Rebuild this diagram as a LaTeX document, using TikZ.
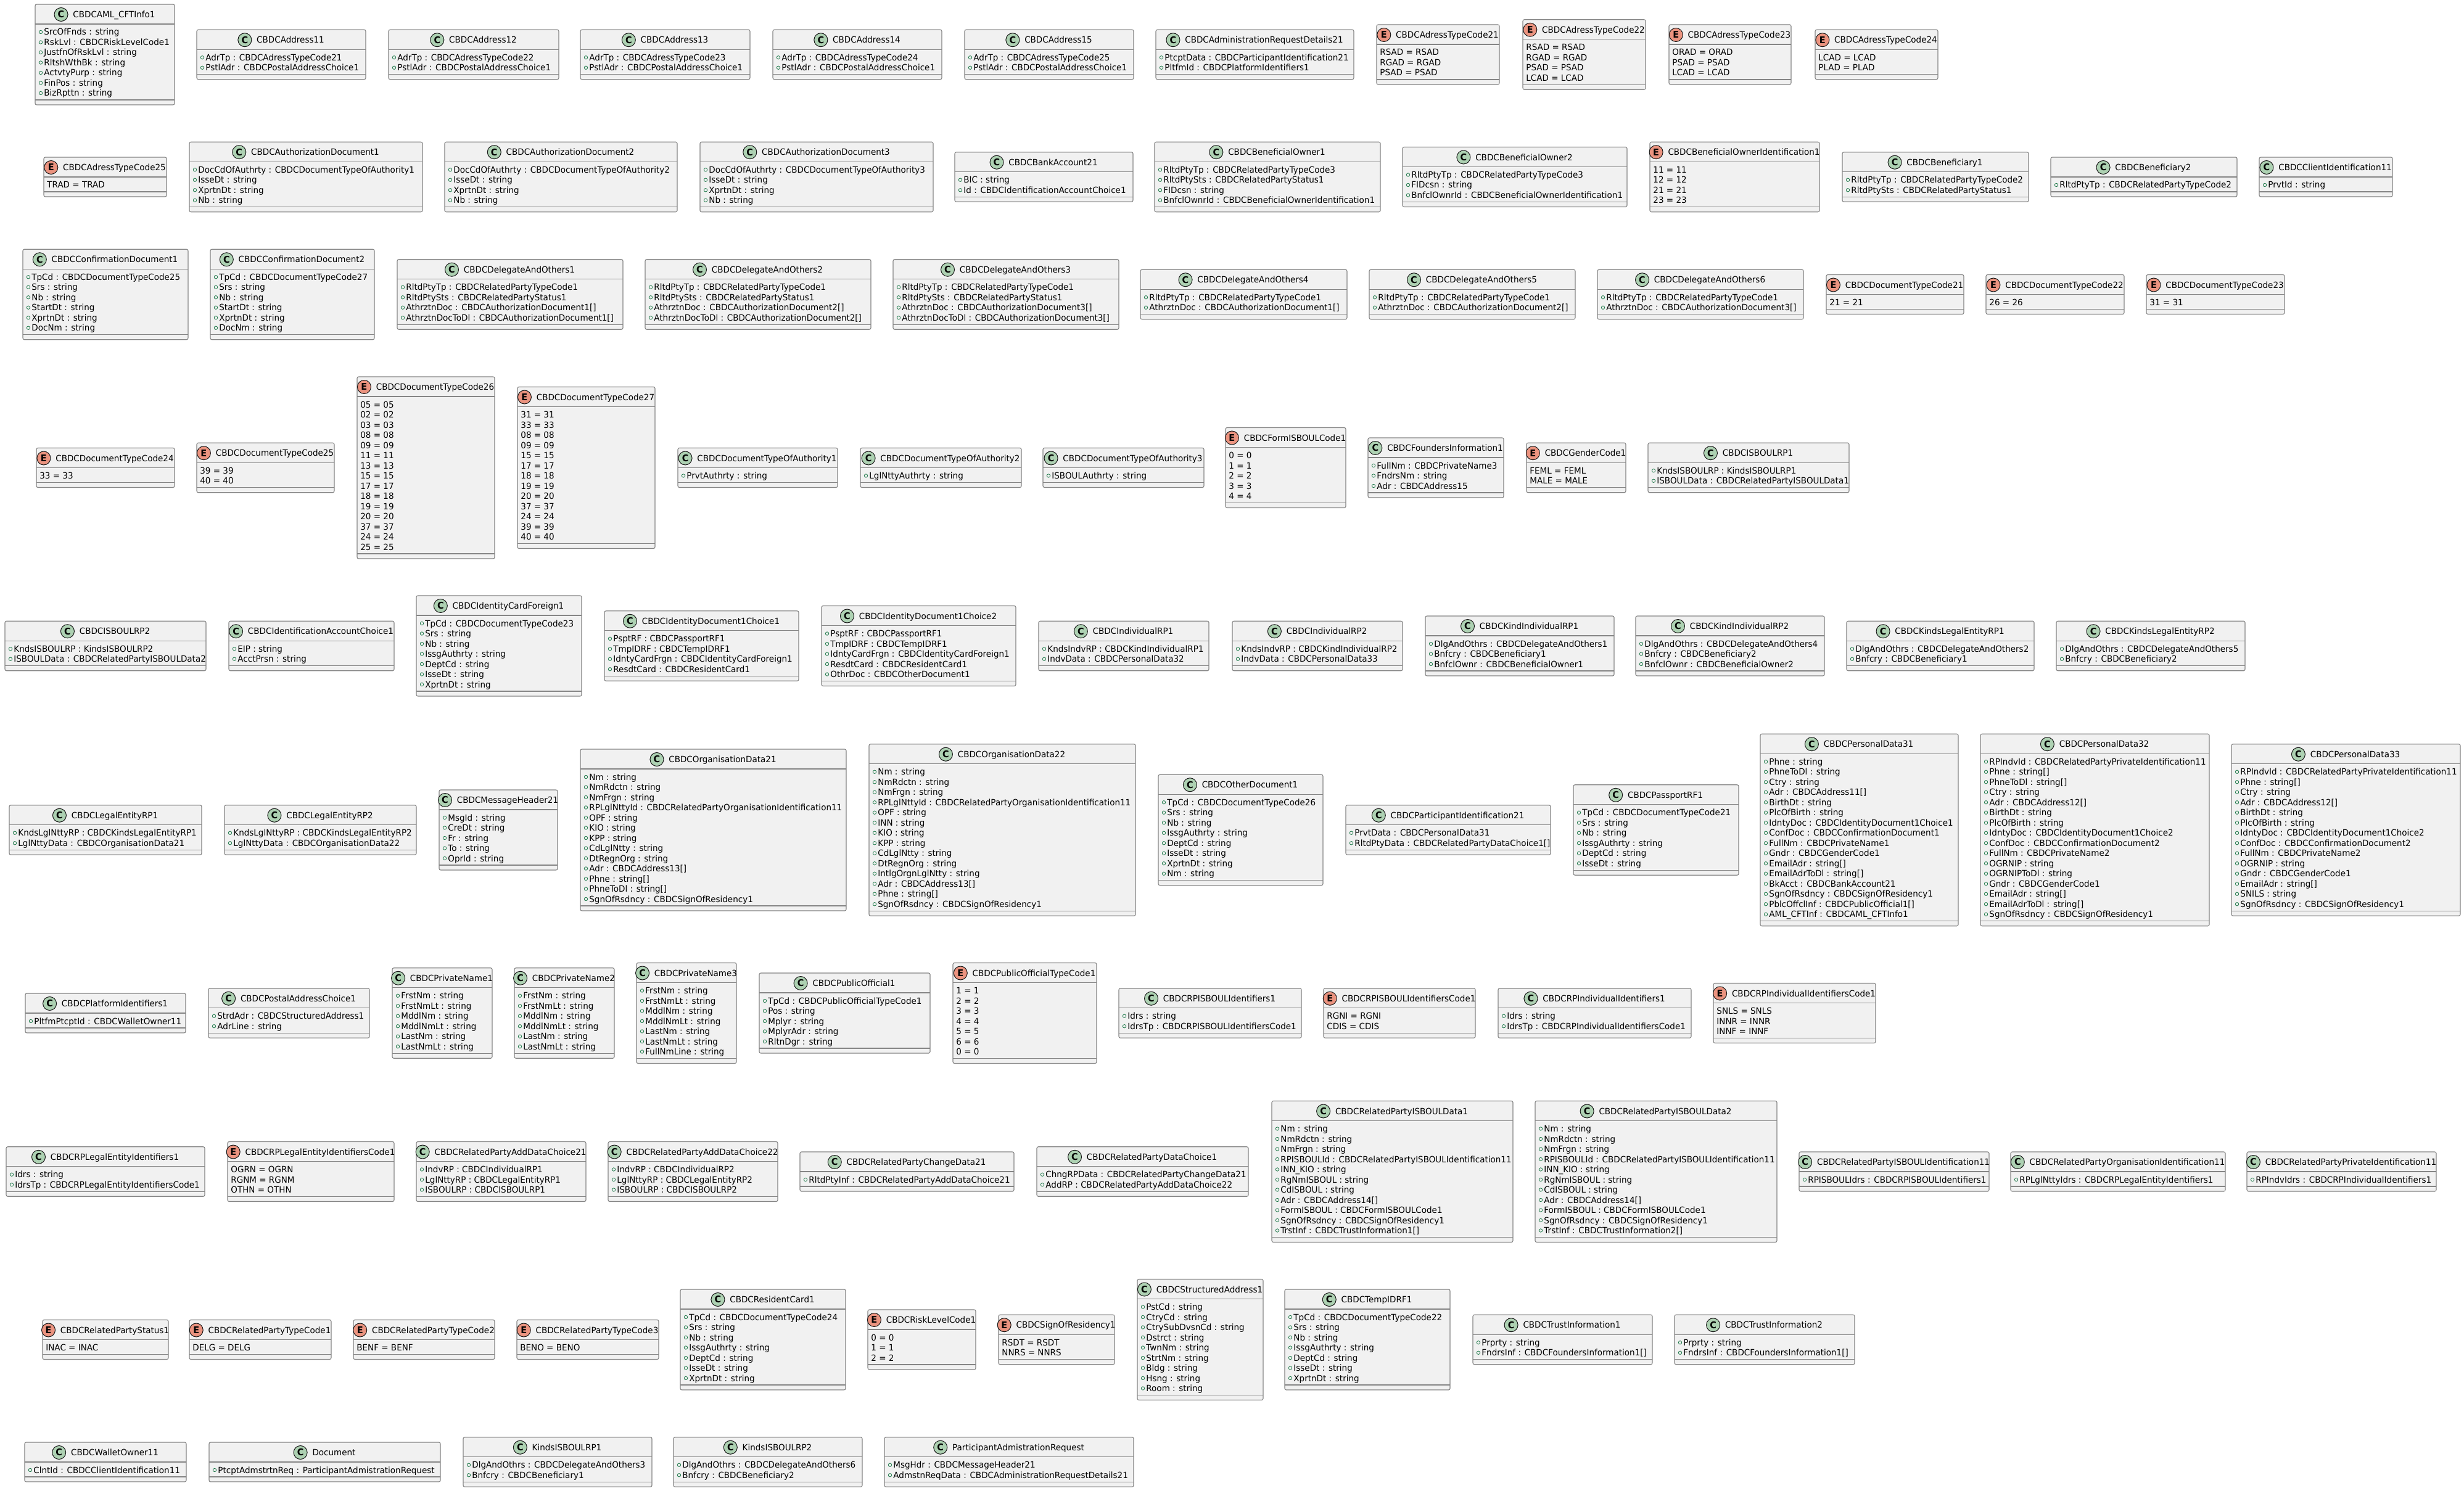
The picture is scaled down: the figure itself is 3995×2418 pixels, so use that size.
\documentclass[tikz,border=0pt]{standalone}
\usepackage{fontspec}
\setmainfont{DejaVu Sans}[FakeStretch=0.965]
\definecolor{boxfill}{HTML}{F1F1F1}
\definecolor{framecol}{HTML}{858585}
\definecolor{classgreen}{HTML}{ADD1B2}
\definecolor{enumred}{HTML}{EB937F}
\definecolor{markgreen}{HTML}{1F7A4A}
\definecolor{iconline}{HTML}{181818}
\newcommand\umlfont{\fontsize{7}{8.25}\selectfont}
\tikzset{
  umlbox/.style={draw=framecol, fill=boxfill, line width=0.55pt, rounded corners=1.25pt, anchor=north west, inner sep=0pt, outer sep=0pt},
  umlsep/.style={draw=framecol, line width=0.55pt},
  umltitle/.style={anchor=base, inner sep=0pt, font=\umlfont, text=black},
  umltext/.style={anchor=base west, inner sep=0pt, font=\umlfont, text=black},
  umlmark/.style={draw=markgreen, line width=0.4pt},
  umliconC/.style={circle, draw=iconline, line width=0.5pt, fill=classgreen, minimum size=11pt, inner sep=0pt, font=\fontsize{7.5}{8}\selectfont\bfseries},
  umliconE/.style={circle, draw=iconline, line width=0.5pt, fill=enumred, minimum size=11pt, inner sep=0pt, font=\fontsize{7.5}{8}\selectfont\bfseries}
}
% #1 kind C/E, #2 id, #3 title, #4 left x, #5 width, #6 row centre y, #7 number of lines, #8 lines
\newcommand\ub[8]{%
  \pgfmathsetmacro\bh{47.5+#7*16.5}%
  \pgfmathsetmacro\bt{#6-\bh/2}%
  \pgfmathsetmacro\bb{#6+\bh/2}%
  \pgfmathsetmacro\br{#4+#5}%
  \pgfmathsetmacro\hy{\bt+32}%
  \pgfmathsetmacro\my{\bb-8}%
  \pgfmathsetmacro\wpt{#5/2}%
  \pgfmathsetmacro\hpt{\bh/2}%
  \node[umlbox, minimum width=\wpt pt, minimum height=\hpt pt] (#2) at (#4,\bt) {};
  \draw[umlsep] (#4,\hy) -- (\br,\hy) (#4,\my) -- (\br,\my);
  \pgfmathsetmacro\tx{#4+#5/2}%
  \pgfmathsetmacro\ty{\bt+21.6}%
  \node[umltitle] (#2-t) at (\tx,\ty) {\hspace*{15pt}#3};
  \node[umlicon#1] (#2-i) at ([shift={(11,-5.1)}]#2-t.base west) {#1};
  \foreach \a [count=\i from 0] in {#8} {%
    \pgfmathsetmacro\ly{\hy+13+16.5*\i}%
    \pgfmathsetmacro\lb{\ly+5}%
    \if#1C
      \pgfmathsetmacro\mx{#4+9}%
      \draw[umlmark] (\mx,\ly) circle[radius=1.35pt];
      \pgfmathsetmacro\ax{#4+14}%
    \else
      \pgfmathsetmacro\ax{#4+5}%
    \fi
    \node[umltext] (#2-a\i) at (\ax,\lb) {\a};
  }%
}
\begin{document}
\begin{tikzpicture}[x=0.5pt,y=-0.5pt]
\fill[white] (0,0) rectangle (3995,2418);
\useasboundingbox (0,0) rectangle (3995,2418);
% Row 1
\ub{C}{aml}{CBDCAML\_CFTInfo1}{57}{226}{88.5}{7}{SrcOfFnds : string, RskLvl : CBDCRiskLevelCode1, JustfnOfRskLvl : string, RltshWthBk : string, ActvtyPurp : string, FinPos : string, BizRpttn : string}
\ub{C}{addr11}{CBDCAddress11}{319}{274}{88.5}{2}{AdrTp : CBDCAdressTypeCode21, PstlAdr : CBDCPostalAddressChoice1}
\ub{C}{addr12}{CBDCAddress12}{630}{276}{88.5}{2}{AdrTp : CBDCAdressTypeCode22, PstlAdr : CBDCPostalAddressChoice1}
\ub{C}{addr13}{CBDCAddress13}{941}{275}{88.5}{2}{AdrTp : CBDCAdressTypeCode23, PstlAdr : CBDCPostalAddressChoice1}
\ub{C}{addr14}{CBDCAddress14}{1253}{274}{88.5}{2}{AdrTp : CBDCAdressTypeCode24, PstlAdr : CBDCPostalAddressChoice1}
\ub{C}{addr15}{CBDCAddress15}{1564}{274}{88.5}{2}{AdrTp : CBDCAdressTypeCode25, PstlAdr : CBDCPostalAddressChoice1}
\ub{C}{admreq}{CBDCAdministrationRequestDetails21}{1874}{321}{88.5}{2}{PtcptData : CBDCParticipantIdentification21, PltfmId : CBDCPlatformIdentifiers1}
\ub{E}{atc21}{CBDCAdressTypeCode21}{2232}{199}{88.5}{3}{RSAD = RSAD, RGAD = RGAD, PSAD = PSAD}
\ub{E}{atc22}{CBDCAdressTypeCode22}{2469}{199}{88.5}{4}{RSAD = RSAD, RGAD = RGAD, PSAD = PSAD, LCAD = LCAD}
\ub{E}{atc23}{CBDCAdressTypeCode23}{2706}{198}{88.5}{3}{ORAD = ORAD, PSAD = PSAD, LCAD = LCAD}
\ub{E}{atc24}{CBDCAdressTypeCode24}{2943}{199}{88.5}{2}{LCAD = LCAD, PLAD = PLAD}
% Row 2
\ub{E}{atc25}{CBDCAdressTypeCode25}{71}{199}{287}{1}{TRAD = TRAD}
\ub{C}{auth1}{CBDCAuthorizationDocument1}{307}{378}{287}{4}{DocCdOfAuthrty : CBDCDocumentTypeOfAuthority1, IsseDt : string, XprtnDt : string, Nb : string}
\ub{C}{auth2}{CBDCAuthorizationDocument2}{721}{377}{287}{4}{DocCdOfAuthrty : CBDCDocumentTypeOfAuthority2, IsseDt : string, XprtnDt : string, Nb : string}
\ub{C}{auth3}{CBDCAuthorizationDocument3}{1135}{378}{287}{4}{DocCdOfAuthrty : CBDCDocumentTypeOfAuthority3, IsseDt : string, XprtnDt : string, Nb : string}
\ub{C}{bank21}{CBDCBankAccount21}{1548}{289}{287}{2}{BIC : string, Id : CBDCIdentificationAccountChoice1}
\ub{C}{benown1}{CBDCBeneficialOwner1}{1872}{366}{287}{4}{RltdPtyTp : CBDCRelatedPartyTypeCode3, RltdPtySts : CBDCRelatedPartyStatus1, FIDcsn : string, BnfclOwnrId : CBDCBeneficialOwnerIdentification1}
\ub{C}{benown2}{CBDCBeneficialOwner2}{2274}{364}{287}{3}{RltdPtyTp : CBDCRelatedPartyTypeCode3, FIDcsn : string, BnfclOwnrId : CBDCBeneficialOwnerIdentification1}
\ub{E}{benownid}{CBDCBeneficialOwnerIdentification1}{2675}{275}{287}{4}{11 = 11, 12 = 12, 21 = 21, 23 = 23}
\ub{C}{benef1}{CBDCBeneficiary1}{2987}{302}{287}{2}{RltdPtyTp : CBDCRelatedPartyTypeCode2, RltdPtySts : CBDCRelatedPartyStatus1}
\ub{C}{benef2}{CBDCBeneficiary2}{3325}{302}{287}{1}{RltdPtyTp : CBDCRelatedPartyTypeCode2}
\ub{C}{clientid}{CBDCClientIdentification11}{3663}{216}{287}{1}{PrvtId : string}
% Row 3
\ub{C}{conf1}{CBDCConfirmationDocument1}{37}{268}{477.5}{6}{TpCd : CBDCDocumentTypeCode25, Srs : string, Nb : string, StartDt : string, XprtnDt : string, DocNm : string}
\ub{C}{conf2}{CBDCConfirmationDocument2}{341}{266}{477.5}{6}{TpCd : CBDCDocumentTypeCode27, Srs : string, Nb : string, StartDt : string, XprtnDt : string, DocNm : string}
\ub{C}{dao1}{CBDCDelegateAndOthers1}{644}{366}{477.5}{4}{RltdPtyTp : CBDCRelatedPartyTypeCode1, RltdPtySts : CBDCRelatedPartyStatus1, AthrztnDoc : CBDCAuthorizationDocument1[], AthrztnDocToDl : CBDCAuthorizationDocument1[]}
\ub{C}{dao2}{CBDCDelegateAndOthers2}{1046}{366}{477.5}{4}{RltdPtyTp : CBDCRelatedPartyTypeCode1, RltdPtySts : CBDCRelatedPartyStatus1, AthrztnDoc : CBDCAuthorizationDocument2[], AthrztnDocToDl : CBDCAuthorizationDocument2[]}
\ub{C}{dao3}{CBDCDelegateAndOthers3}{1448}{366}{477.5}{4}{RltdPtyTp : CBDCRelatedPartyTypeCode1, RltdPtySts : CBDCRelatedPartyStatus1, AthrztnDoc : CBDCAuthorizationDocument3[], AthrztnDocToDl : CBDCAuthorizationDocument3[]}
\ub{C}{dao4}{CBDCDelegateAndOthers4}{1849}{335}{477.5}{2}{RltdPtyTp : CBDCRelatedPartyTypeCode1, AthrztnDoc : CBDCAuthorizationDocument1[]}
\ub{C}{dao5}{CBDCDelegateAndOthers5}{2220}{334}{477.5}{2}{RltdPtyTp : CBDCRelatedPartyTypeCode1, AthrztnDoc : CBDCAuthorizationDocument2[]}
\ub{C}{dao6}{CBDCDelegateAndOthers6}{2590}{334}{477.5}{2}{RltdPtyTp : CBDCRelatedPartyTypeCode1, AthrztnDoc : CBDCAuthorizationDocument3[]}
\ub{E}{dtc21}{CBDCDocumentTypeCode21}{2961}{223}{477.5}{1}{21 = 21}
\ub{E}{dtc22}{CBDCDocumentTypeCode22}{3220}{224}{477.5}{1}{26 = 26}
\ub{E}{dtc23}{CBDCDocumentTypeCode23}{3480}{224}{477.5}{1}{31 = 31}
% Row 4
\ub{E}{dtc24}{CBDCDocumentTypeCode24}{59}{224}{758.5}{1}{33 = 33}
\ub{E}{dtc25}{CBDCDocumentTypeCode25}{319}{223}{758.5}{2}{39 = 39, 40 = 40}
\ub{E}{dtc26}{CBDCDocumentTypeCode26}{579}{223}{758.5}{15}{05 = 05, 02 = 02, 03 = 03, 08 = 08, 09 = 09, 11 = 11, 13 = 13, 15 = 15, 17 = 17, 18 = 18, 19 = 19, 20 = 20, 37 = 37, 24 = 24, 25 = 25}
\ub{E}{dtc27}{CBDCDocumentTypeCode27}{839}{223}{758.5}{13}{31 = 31, 33 = 33, 08 = 08, 09 = 09, 15 = 15, 17 = 17, 18 = 18, 19 = 19, 20 = 20, 37 = 37, 24 = 24, 39 = 39, 40 = 40}
\ub{C}{dtoa1}{CBDCDocumentTypeOfAuthority1}{1099}{259}{758.5}{1}{PrvtAuthrty : string}
\ub{C}{dtoa2}{CBDCDocumentTypeOfAuthority2}{1395}{261}{758.5}{1}{LglNttyAuthrty : string}
\ub{C}{dtoa3}{CBDCDocumentTypeOfAuthority3}{1691}{261}{758.5}{1}{ISBOULAuthrty : string}
\ub{E}{formisb}{CBDCFormISBOULCode1}{1987}{195}{758.5}{5}{0 = 0, 1 = 1, 2 = 2, 3 = 3, 4 = 4}
\ub{C}{founders}{CBDCFoundersInformation1}{2218}{220}{758.5}{3}{FullNm : CBDCPrivateName3, FndrsNm : string, Adr : CBDCAddress15}
\ub{E}{gender}{CBDCGenderCode1}{2475}{161}{758.5}{2}{FEML = FEML, MALE = MALE}
\ub{C}{isbrp1}{CBDCISBOULRP1}{2672}{326}{758.5}{2}{KndsISBOULRP : KindsISBOULRP1, ISBOULData : CBDCRelatedPartyISBOULData1}
% Row 5
\ub{C}{isbrp2}{CBDCISBOULRP2}{8}{326}{1047.5}{2}{KndsISBOULRP : KindsISBOULRP2, ISBOULData : CBDCRelatedPartyISBOULData2}
\ub{C}{idacct}{CBDCIdentificationAccountChoice1}{371}{268}{1047.5}{2}{EIP : string, AcctPrsn : string}
\ub{C}{idcard}{CBDCIdentityCardForeign1}{675}{268}{1047.5}{7}{TpCd : CBDCDocumentTypeCode23, Srs : string, Nb : string, IssgAuthrty : string, DeptCd : string, IsseDt : string, XprtnDt : string}
\ub{C}{iddoc1}{CBDCIdentityDocument1Choice1}{980}{315}{1047.5}{4}{PsptRF : CBDCPassportRF1, TmpIDRF : CBDCTempIDRF1, IdntyCardFrgn : CBDCIdentityCardForeign1, ResdtCard : CBDCResidentCard1}
\ub{C}{iddoc2}{CBDCIdentityDocument1Choice2}{1332}{315}{1047.5}{5}{PsptRF : CBDCPassportRF1, TmpIDRF : CBDCTempIDRF1, IdntyCardFrgn : CBDCIdentityCardForeign1, ResdtCard : CBDCResidentCard1, OthrDoc : CBDCOtherDocument1}
\ub{C}{indrp1}{CBDCIndividualRP1}{1684}{276}{1047.5}{2}{KndsIndvRP : CBDCKindIndividualRP1, IndvData : CBDCPersonalData32}
\ub{C}{indrp2}{CBDCIndividualRP2}{1998}{276}{1047.5}{2}{KndsIndvRP : CBDCKindIndividualRP2, IndvData : CBDCPersonalData33}
\ub{C}{kindind1}{CBDCKindIndividualRP1}{2311}{306}{1047.5}{3}{DlgAndOthrs : CBDCDelegateAndOthers1, Bnfcry : CBDCBeneficiary1, BnfclOwnr : CBDCBeneficialOwner1}
\ub{C}{kindind2}{CBDCKindIndividualRP2}{2652}{306}{1047.5}{3}{DlgAndOthrs : CBDCDelegateAndOthers4, Bnfcry : CBDCBeneficiary2, BnfclOwnr : CBDCBeneficialOwner2}
\ub{C}{kindsle1}{CBDCKindsLegalEntityRP1}{2994}{304}{1047.5}{2}{DlgAndOthrs : CBDCDelegateAndOthers2, Bnfcry : CBDCBeneficiary1}
\ub{C}{kindsle2}{CBDCKindsLegalEntityRP2}{3334}{306}{1047.5}{2}{DlgAndOthrs : CBDCDelegateAndOthers5, Bnfcry : CBDCBeneficiary2}
% Row 6
\ub{C}{lerp1}{CBDCLegalEntityRP1}{15}{312}{1346}{2}{KndsLglNttyRP : CBDCKindsLegalEntityRP1, LglNttyData : CBDCOrganisationData21}
\ub{C}{lerp2}{CBDCLegalEntityRP2}{364}{311}{1346}{2}{KndsLglNttyRP : CBDCKindsLegalEntityRP2, LglNttyData : CBDCOrganisationData22}
\ub{C}{msghdr}{CBDCMessageHeader21}{712}{192}{1346}{5}{MsgId : string, CreDt : string, Fr : string, To : string, OprId : string}
\ub{C}{org21}{CBDCOrganisationData21}{941}{431}{1346}{13}{Nm : string, NmRdctn : string, NmFrgn : string, RPLglNttyId : CBDCRelatedPartyOrganisationIdentification11, OPF : string, KIO : string, KPP : string, CdLglNtty : string, DtRegnOrg : string, Adr : CBDCAddress13[], Phne : string[], PhneToDl : string[], SgnOfRsdncy : CBDCSignOfResidency1}
\ub{C}{org22}{CBDCOrganisationData22}{1409}{432}{1346}{14}{Nm : string, NmRdctn : string, NmFrgn : string, RPLglNttyId : CBDCRelatedPartyOrganisationIdentification11, OPF : string, INN : string, KIO : string, KPP : string, CdLglNtty : string, DtRegnOrg : string, IntlgOrgnLglNtty : string, Adr : CBDCAddress13[], Phne : string[], SgnOfRsdncy : CBDCSignOfResidency1}
\ub{C}{othdoc}{CBDCOtherDocument1}{1878}{267}{1346}{8}{TpCd : CBDCDocumentTypeCode26, Srs : string, Nb : string, IssgAuthrty : string, DeptCd : string, IsseDt : string, XprtnDt : string, Nm : string}
\ub{C}{partid}{CBDCParticipantIdentification21}{2182}{332}{1346}{2}{PrvtData : CBDCPersonalData31, RltdPtyData : CBDCRelatedPartyDataChoice1[]}
\ub{C}{passport}{CBDCPassportRF1}{2551}{268}{1346}{6}{TpCd : CBDCDocumentTypeCode21, Srs : string, Nb : string, IssgAuthrty : string, DeptCd : string, IsseDt : string}
\ub{C}{pd31}{CBDCPersonalData31}{2854}{321}{1346}{16}{Phne : string, PhneToDl : string, Ctry : string, Adr : CBDCAddress11[], BirthDt : string, PlcOfBirth : string, IdntyDoc : CBDCIdentityDocument1Choice1, ConfDoc : CBDCConfirmationDocument1, FullNm : CBDCPrivateName1, Gndr : CBDCGenderCode1, EmailAdr : string[], EmailAdrToDl : string[], BkAcct : CBDCBankAccount21, SgnOfRsdncy : CBDCSignOfResidency1, PblcOffclInf : CBDCPublicOfficial1[], AML\_CFTInf : CBDCAML\_CFTInfo1}
\ub{C}{pd32}{CBDCPersonalData32}{3211}{371}{1346}{16}{RPIndvId : CBDCRelatedPartyPrivateIdentification11, Phne : string[], PhneToDl : string[], Ctry : string, Adr : CBDCAddress12[], BirthDt : string, PlcOfBirth : string, IdntyDoc : CBDCIdentityDocument1Choice2, ConfDoc : CBDCConfirmationDocument2, FullNm : CBDCPrivateName2, OGRNIP : string, OGRNIPToDl : string, Gndr : CBDCGenderCode1, EmailAdr : string[], EmailAdrToDl : string[], SgnOfRsdncy : CBDCSignOfResidency1}
\ub{C}{pd33}{CBDCPersonalData33}{3618}{371}{1346}{14}{RPIndvId : CBDCRelatedPartyPrivateIdentification11, Phne : string[], Ctry : string, Adr : CBDCAddress12[], BirthDt : string, PlcOfBirth : string, IdntyDoc : CBDCIdentityDocument1Choice2, ConfDoc : CBDCConfirmationDocument2, FullNm : CBDCPrivateName2, OGRNIP : string, Gndr : CBDCGenderCode1, EmailAdr : string[], SNILS : string, SgnOfRsdncy : CBDCSignOfResidency1}
% Row 7
\ub{C}{pltfm}{CBDCPlatformIdentifiers1}{41}{260}{1643}{1}{PltfmPtcptId : CBDCWalletOwner11}
\ub{C}{postal}{CBDCPostalAddressChoice1}{338}{261}{1643}{2}{StrdAdr : CBDCStructuredAddress1, AdrLine : string}
\ub{C}{pn1}{CBDCPrivateName1}{636}{162}{1643}{6}{FrstNm : string, FrstNmLt : string, MddlNm : string, MddlNmLt : string, LastNm : string, LastNmLt : string}
\ub{C}{pn2}{CBDCPrivateName2}{834}{162}{1643}{6}{FrstNm : string, FrstNmLt : string, MddlNm : string, MddlNmLt : string, LastNm : string, LastNmLt : string}
\ub{C}{pn3}{CBDCPrivateName3}{1032}{162}{1643}{7}{FrstNm : string, FrstNmLt : string, MddlNm : string, MddlNmLt : string, LastNm : string, LastNmLt : string, FullNmLine : string}
\ub{C}{puboff}{CBDCPublicOfficial1}{1231}{277}{1643}{5}{TpCd : CBDCPublicOfficialTypeCode1, Pos : string, Mplyr : string, MplyrAdr : string, RltnDgr : string}
\ub{E}{puboftc}{CBDCPublicOfficialTypeCode1}{1545}{233}{1643}{7}{1 = 1, 2 = 2, 3 = 3, 4 = 4, 5 = 5, 6 = 6, 0 = 0}
\ub{C}{rpisbids}{CBDCRPISBOULIdentifiers1}{1814}{296}{1643}{2}{Idrs : string, IdrsTp : CBDCRPISBOULIdentifiersCode1}
\ub{E}{rpisbidc}{CBDCRPISBOULIdentifiersCode1}{2146}{246}{1643}{2}{RGNI = RGNI, CDIS = CDIS}
\ub{C}{rpindids}{CBDCRPIndividualIdentifiers1}{2429}{313}{1643}{2}{Idrs : string, IdrsTp : CBDCRPIndividualIdentifiersCode1}
\ub{E}{rpindidc}{CBDCRPIndividualIdentifiersCode1}{2778}{263}{1643}{3}{SNLS = SNLS, INNR = INNR, INNF = INNF}
% Row 8
\ub{C}{rpleids}{CBDCRPLegalEntityIdentifiers1}{10}{322}{1900}{2}{Idrs : string, IdrsTp : CBDCRPLegalEntityIdentifiersCode1}
\ub{E}{rpleidc}{CBDCRPLegalEntityIdentifiersCode1}{369}{270}{1900}{3}{OGRN = OGRN, RGNM = RGNM, OTHN = OTHN}
\ub{C}{rpadd21}{CBDCRelatedPartyAddDataChoice21}{675}{275}{1900}{3}{IndvRP : CBDCIndividualRP1, LglNttyRP : CBDCLegalEntityRP1, ISBOULRP : CBDCISBOULRP1}
\ub{C}{rpadd22}{CBDCRelatedPartyAddDataChoice22}{986}{275}{1900}{3}{IndvRP : CBDCIndividualRP2, LglNttyRP : CBDCLegalEntityRP2, ISBOULRP : CBDCISBOULRP2}
\ub{C}{rpchg21}{CBDCRelatedPartyChangeData21}{1297}{347}{1900}{1}{RltdPtyInf : CBDCRelatedPartyAddDataChoice21}
\ub{C}{rpdata1}{CBDCRelatedPartyDataChoice1}{1681}{343}{1900}{2}{ChngRPData : CBDCRelatedPartyChangeData21, AddRP : CBDCRelatedPartyAddDataChoice22}
\ub{C}{rpisbd1}{CBDCRelatedPartyISBOULData1}{2062}{391}{1900}{11}{Nm : string, NmRdctn : string, NmFrgn : string, RPISBOULId : CBDCRelatedPartyISBOULIdentification11, INN\_KIO : string, RgNmISBOUL : string, CdISBOUL : string, Adr : CBDCAddress14[], FormISBOUL : CBDCFormISBOULCode1, SgnOfRsdncy : CBDCSignOfResidency1, TrstInf : CBDCTrustInformation1[]}
\ub{C}{rpisbd2}{CBDCRelatedPartyISBOULData2}{2489}{392}{1900}{11}{Nm : string, NmRdctn : string, NmFrgn : string, RPISBOULId : CBDCRelatedPartyISBOULIdentification11, INN\_KIO : string, RgNmISBOUL : string, CdISBOUL : string, Adr : CBDCAddress14[], FormISBOUL : CBDCFormISBOULCode1, SgnOfRsdncy : CBDCSignOfResidency1, TrstInf : CBDCTrustInformation2[]}
\ub{C}{rpisbid11}{CBDCRelatedPartyISBOULIdentification11}{2917}{308}{1900}{1}{RPISBOULIdrs : CBDCRPISBOULIdentifiers1}
\ub{C}{rporgid11}{CBDCRelatedPartyOrganisationIdentification11}{3260}{348}{1900}{1}{RPLglNttyIdrs : CBDCRPLegalEntityIdentifiers1}
\ub{C}{rpprvid11}{CBDCRelatedPartyPrivateIdentification11}{3643}{307}{1900}{1}{RPIndvIdrs : CBDCRPIndividualIdentifiers1}
% Row 9
\ub{E}{rpstat}{CBDCRelatedPartyStatus1}{69}{204}{2172.5}{1}{INAC = INAC}
\ub{E}{rptc1}{CBDCRelatedPartyTypeCode1}{307}{230}{2172.5}{1}{DELG = DELG}
\ub{E}{rptc2}{CBDCRelatedPartyTypeCode2}{573}{229}{2172.5}{1}{BENF = BENF}
\ub{E}{rptc3}{CBDCRelatedPartyTypeCode3}{838}{230}{2172.5}{1}{BENO = BENO}
\ub{C}{rescard}{CBDCResidentCard1}{1103}{268}{2172.5}{7}{TpCd : CBDCDocumentTypeCode24, Srs : string, Nb : string, IssgAuthrty : string, DeptCd : string, IsseDt : string, XprtnDt : string}
\ub{E}{risk}{CBDCRiskLevelCode1}{1407}{175}{2172.5}{3}{0 = 0, 1 = 1, 2 = 2}
\ub{E}{signres}{CBDCSignOfResidency1}{1619}{188}{2172.5}{2}{RSDT = RSDT, NNRS = NNRS}
\ub{C}{straddr}{CBDCStructuredAddress1}{1844}{204}{2172.5}{9}{PstCd : string, CtryCd : string, CtrySubDvsnCd : string, Dstrct : string, TwnNm : string, StrtNm : string, Bldg : string, Hsng : string, Room : string}
\ub{C}{tempid}{CBDCTempIDRF1}{2083}{268}{2172.5}{7}{TpCd : CBDCDocumentTypeCode22, Srs : string, Nb : string, IssgAuthrty : string, DeptCd : string, IsseDt : string, XprtnDt : string}
\ub{C}{trust1}{CBDCTrustInformation1}{2388}{291}{2172.5}{2}{Prprty : string, FndrsInf : CBDCFoundersInformation1[]}
\ub{C}{trust2}{CBDCTrustInformation2}{2715}{292}{2172.5}{2}{Prprty : string, FndrsInf : CBDCFoundersInformation1[]}
% Row 10
\ub{C}{wallet}{CBDCWalletOwner11}{40}{262}{2371}{1}{ClntId : CBDCClientIdentification11}
\ub{C}{document}{Document}{339}{375}{2371}{1}{PtcptAdmstrtnReq : ParticipantAdmistrationRequest}
\ub{C}{kisb1}{KindsISBOULRP1}{751}{306}{2371}{2}{DlgAndOthrs : CBDCDelegateAndOthers3, Bnfcry : CBDCBeneficiary1}
\ub{C}{kisb2}{KindsISBOULRP2}{1092}{306}{2371}{2}{DlgAndOthrs : CBDCDelegateAndOthers6, Bnfcry : CBDCBeneficiary2}
\ub{C}{partadm}{ParticipantAdmistrationRequest}{1434}{404}{2371}{2}{MsgHdr : CBDCMessageHeader21, AdmstnReqData : CBDCAdministrationRequestDetails21}
\end{tikzpicture}
\end{document}
